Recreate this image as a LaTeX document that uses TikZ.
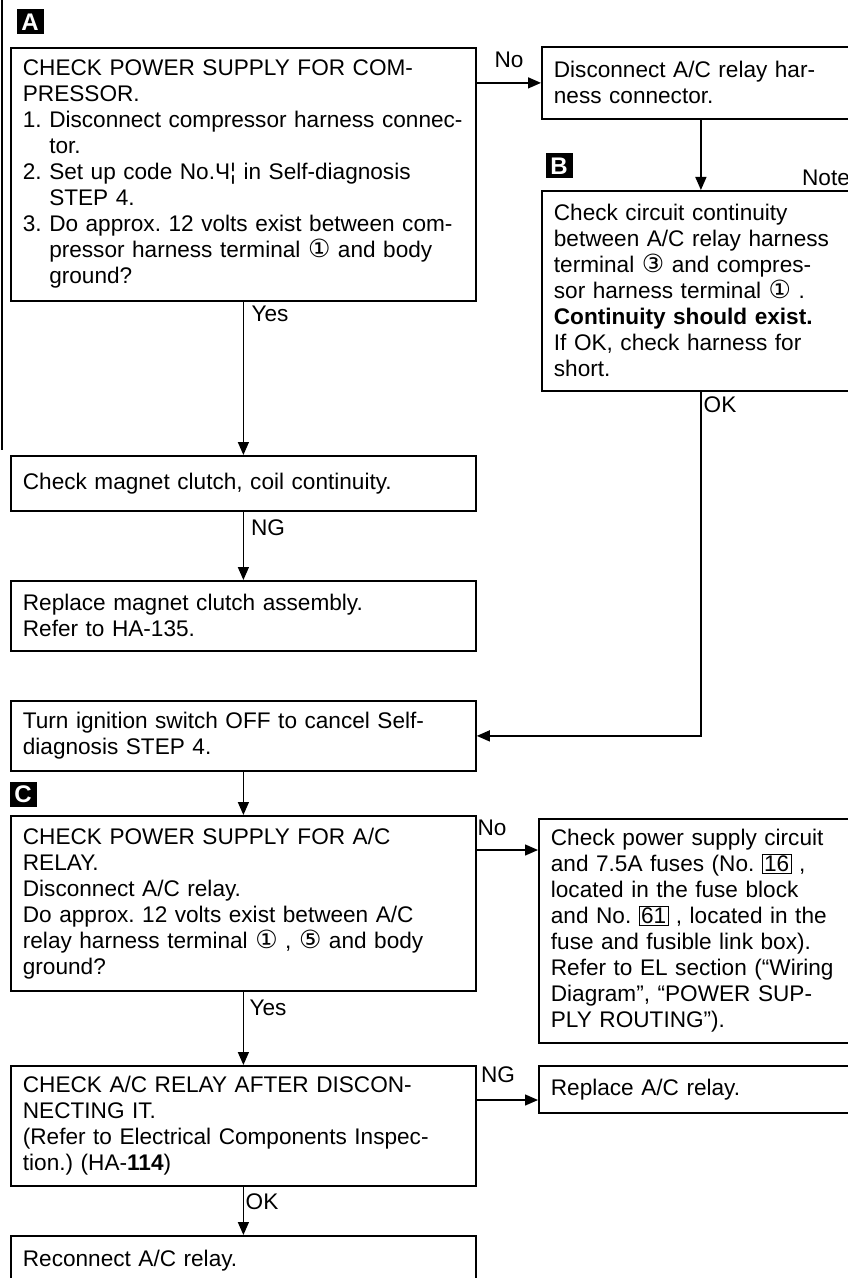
\documentclass[tikz,border=0pt]{standalone}
\usepackage{fontspec}
\setmainfont{Liberation Sans}
\newfontfamily\circfont{DejaVu Sans}
\usetikzlibrary{arrows.meta}
\frenchspacing

\newcommand{\term}[1]{{\circfont\fontsize{12.5}{13}\selectfont #1}}
\newcommand{\fuseno}[1]{{\setlength{\fboxsep}{0.7pt}\setlength{\fboxrule}{0.4pt}\fbox{#1}}}
\newcommand{\ind}{\hphantom{1. }}

\tikzset{
  stepbox/.style={draw, line width=0.9pt, anchor=north west, align=left,
    inner xsep=6pt, inner ysep=0pt, font=\fontsize{11.3}{13}\selectfont},
  leftbox/.style={stepbox, text width=220.5pt},
  rightbox/.style={stepbox, text width=147pt},
  tag/.style={fill=black, text=white, font=\fontsize{12}{12}\selectfont\bfseries,
    minimum width=13.5pt, minimum height=12.5pt, inner sep=0pt},
  lbl/.style={font=\fontsize{11.3}{13}\selectfont, inner sep=0pt},
  flow/.style={-{Triangle[length=6.5pt,width=5.5pt]}, line width=0.7pt}
}

\begin{document}
\begin{tikzpicture}[x=0.5pt,y=-0.5pt]
\useasboundingbox (0,0) rectangle (847,1278);
% page rule at the left edge
\draw[line width=0.8pt] (2,0) -- (2,450);

% A
\node[tag] (tagA) at (30,22) {A};
\node[leftbox, minimum height=126.5pt] (chkComp) at (10,47)
  {CHECK POWER SUPPLY FOR COM-\\
   PRESSOR.\\
   1. Disconnect compressor harness connec-\\
   \ind tor.\\
   2. Set up code No.Ч¦ in Self-diagnosis\\
   \ind STEP 4.\\
   3. Do approx. 12 volts exist between com-\\
   \ind pressor harness terminal \term{①}\ and body\\
   \ind ground?};
\node[rightbox, minimum height=36pt] (discRelay) at (541,46)
  {Disconnect A/C relay har-\\ness connector.};

% B
\node[tag] (tagB) at (559,166) {B};
\node[lbl] (note) at (826,178) {Note};
\node[rightbox, minimum height=100pt] (contB) at (541,190)
  {Check circuit continuity\\
   between A/C relay harness\\
   terminal \term{③}\ and compres-\\
   sor harness terminal \term{①} .\\
   \textbf{Continuity should exist.}\\
   If OK, check harness for\\
   short.};

\node[leftbox, minimum height=27.5pt] (chkClutch) at (10,455)
  {Check magnet clutch, coil continuity.};
\node[leftbox, minimum height=35pt] (repClutch) at (10,580)
  {Replace magnet clutch assembly.\\Refer to HA-135.};
\node[leftbox, minimum height=35pt] (ignOff) at (10,700)
  {Turn ignition switch OFF to cancel Self-\\diagnosis STEP 4.};

% C
\node[tag] (tagC) at (23,794) {C};
\node[leftbox, minimum height=87.5pt] (chkRelayPwr) at (10,815)
  {CHECK POWER SUPPLY FOR A/C\\
   RELAY.\\
   Disconnect A/C relay.\\
   Do approx. 12 volts exist between A/C\\
   relay harness terminal \term{①} , \term{⑤}\ and body\\
   ground?};
\node[rightbox, minimum height=112pt] (chkFuse) at (538,818)
  {Check power supply circuit\\
   and 7.5A fuses (No. \fuseno{16} ,\\
   located in the fuse block\\
   and No. \fuseno{61} , located in the\\
   fuse and fusible link box).\\
   Refer to EL section (“Wiring\\
   Diagram”, “POWER SUP-\\
   PLY ROUTING”).};
\node[leftbox, minimum height=60pt] (chkRelay) at (10,1065)
  {CHECK A/C RELAY AFTER DISCON-\\
   NECTING IT.\\
   (Refer to Electrical Components Inspec-\\
   tion.) (HA-\textbf{114})};
\node[rightbox, minimum height=23.5pt] (repRelay) at (538,1065)
  {Replace A/C relay.};
\node[leftbox, minimum height=25pt] (reconRelay) at (10,1235)
  {Reconnect A/C relay.};

% connectors
\draw[flow] (chkComp.east |- discRelay.west) -- (discRelay.west);
\draw[flow] (discRelay.south) -- (contB.north);
\draw[flow] (chkComp.south) -- (chkClutch.north);
\draw[flow] (chkClutch.south) -- (repClutch.north);
\draw[flow] (contB.south) |- (ignOff.east);
\draw[flow] (ignOff.south) -- (chkRelayPwr.north);
\draw[flow] ([yshift=-17.5pt]chkRelayPwr.north east) -- ([yshift=-17.5pt]chkRelayPwr.north east -| chkFuse.west);
\draw[flow] (chkRelayPwr.south) -- (chkRelay.north);
\draw[flow] ([yshift=-17.5pt]chkRelay.north east) -- ([yshift=-17.5pt]chkRelay.north east -| repRelay.west);
\draw[flow] (chkRelay.south) -- (reconRelay.north);

% branch labels
\node[lbl] (noA) at (509,60) {No};
\node[lbl] (yesA) at (270,314) {Yes};
\node[lbl] (ngClutch) at (268,528) {NG};
\node[lbl] (okB) at (720,405) {OK};
\node[lbl] (noC) at (492,828) {No};
\node[lbl] (yesC) at (268,1008) {Yes};
\node[lbl] (ngRelay) at (498,1075) {NG};
\node[lbl] (okRelay) at (262,1202) {OK};
\end{tikzpicture}
\end{document}
